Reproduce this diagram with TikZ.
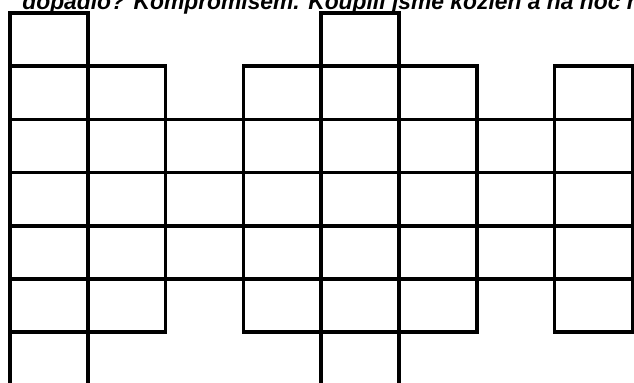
\documentclass[tikz,border=0pt]{standalone}
\usepackage{fontspec}
\newfontfamily\capfont{Liberation Sans}
\usetikzlibrary{positioning}

\begin{document}
\begin{tikzpicture}[
    x=0.02cm, y=-0.02cm,
    cell/.style={rectangle, draw, line width=2pt, minimum width=1.556cm, minimum height=1.064cm, inner sep=0pt, outer sep=0pt},
    captext/.style={font=\capfont\bfseries\itshape\fontsize{13}{15}\selectfont, inner sep=0pt, anchor=base west}
]
\useasboundingbox (0,0) rectangle (634,382);
\clip (0,0) rectangle (634,382);

\node[captext] (caption) at (22,9.5) {dopadlo? Kompromisem. Koupili jsme kozlen a na noc n};

% middle band, full width
\foreach \r in {2,3,4}
  \foreach \c in {0,...,7}
    \node[cell] (cell-\c-\r) at ({10+77.8*\c+38.9}, {13+53.2*\r+26.6}) {};

% steps above and below the band
\foreach \c/\r in {0/1,1/1,3/1,4/1,5/1,7/1,0/5,1/5,3/5,4/5,5/5,7/5,0/0,4/0,0/6,4/6}
  \node[cell] (cell-\c-\r) at ({10+77.8*\c+38.9}, {13+53.2*\r+26.6}) {};
\end{tikzpicture}
\end{document}
